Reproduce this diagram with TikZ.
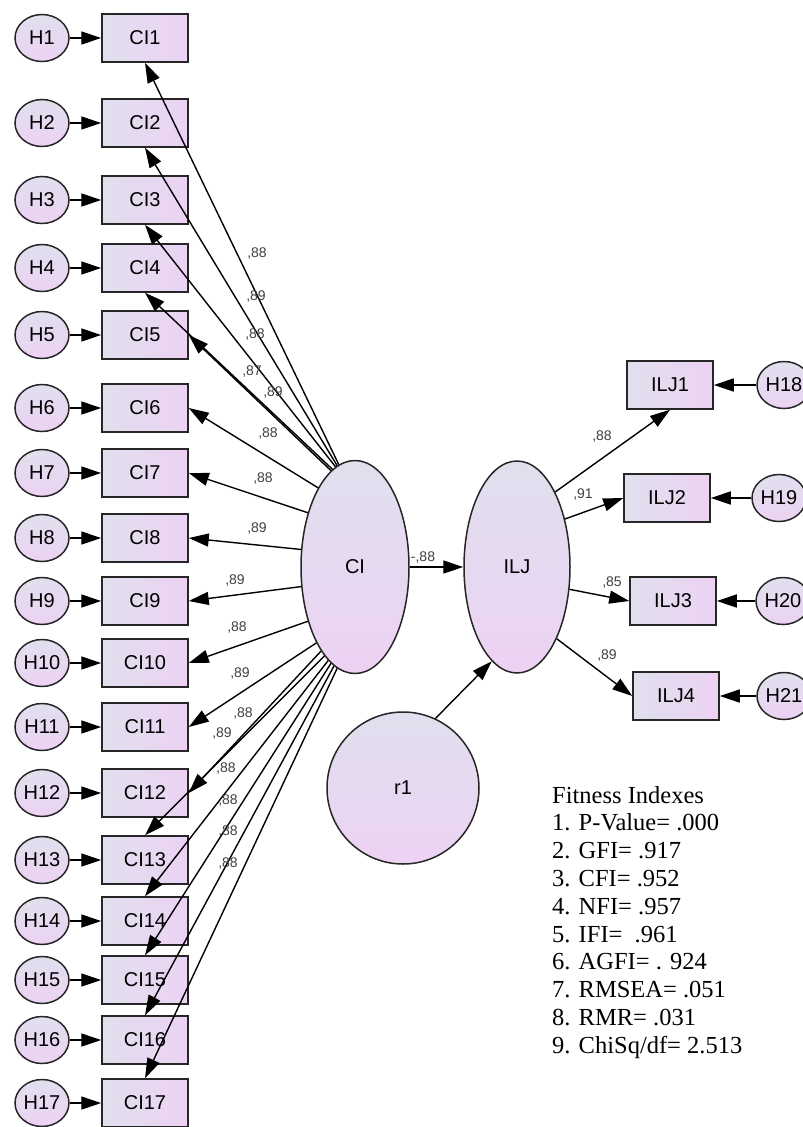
\documentclass[tikz,border=0pt]{standalone}
\usepackage{fontspec}
\setmainfont{Liberation Serif}
\newfontfamily\arialfont{Liberation Sans}
\usetikzlibrary{arrows.meta,shapes.geometric}
\definecolor{amosblue}{HTML}{E0DFEE}
\definecolor{amospink}{HTML}{EDD2F3}

\begin{document}
\begin{tikzpicture}[x=1pt,y=-1pt,
  obs/.style={draw=black!85,line width=1.5pt,left color=amosblue,right color=amospink,
    minimum width=86pt,minimum height=48pt,inner sep=0pt,font=\arialfont\fontsize{20}{20}\selectfont},
  err/.style={ellipse,draw=black!85,line width=1.5pt,top color=amosblue,bottom color=amospink,
    minimum width=54pt,minimum height=47pt,inner sep=0pt,font=\arialfont\fontsize{20}{20}\selectfont},
  lat/.style={ellipse,draw=black!85,line width=1.5pt,top color=amosblue,bottom color=amospink,
    minimum width=108pt,minimum height=213pt,inner sep=0pt,font=\arialfont\fontsize{20}{20}\selectfont},
  load/.style={line width=1.4pt,-{Triangle[length=20pt,width=13pt]}},
  coef/.style={inner sep=0pt,text=black!75,font=\arialfont\fontsize{14}{14}\selectfont},
  fitline/.style={inner sep=0pt,anchor=base west,font=\fontsize{24.5}{27}\selectfont},
]
 \useasboundingbox (0,0) rectangle (803,1127); % 画像の大きさ

 % 左の列: H1〜H17 と CI1〜CI17
 \foreach \i/\y in {1/38,2/123,3/200,4/268,5/335,6/408,7/473,8/538,9/601,10/663,
   11/727,12/793,13/860,14/921,15/980,16/1040,17/1103} {
  \node[err] (H\i) at (42,\y) {H\i};
  \node[obs] (CI\i) at (145,\y) {CI\i};
  \draw[load] (H\i) -- (CI\i);
 }

 \node[lat] (CI) at (355,567) {CI}; % 潜在変数CI
 \node[lat,minimum width=106pt,minimum height=212pt] (ILJ) at (517,567) {ILJ}; % 潜在変数ILJ
 \node[lat,circle,minimum size=152pt] (r1) at (403,788) {r1}; % 誤差r1

 % 右の列: ILJ1〜ILJ4 と H18〜H21
 \foreach \i/\y/\x/\hx in {1/385/670/784,2/498/667/779,3/601/673/783,4/696/676/784} {
  \pgfmathtruncatemacro\h{17+\i}
  \node[obs] (ILJ\i) at (\x,\y) {ILJ\i};
  \node[err] (H\h) at (\hx,\y) {H\h};
  \draw[load] (H\h) -- (ILJ\i);
 }

 % CIから各CIkへの矢印
 \foreach \i/\a/\t in {1/99/south,2/100/south,3/101/south,4/103/south,5/104/east,
   6/115/east,7/131/east,8/162/east,9/200/east,10/229/east,11/243/east,12/248/east,
   13/251/north,14/254/north,15/256/north,16/258/north,17/260/north}
  \draw[load] (CI.\a) -- (CI\i.\t);

 \draw[load] (CI.east) -- (ILJ.west);
 \draw[load] (r1.65) -- (ILJ.255);
 \draw[load] (ILJ.63) -- (ILJ1.south);
 \draw[load] (ILJ.45) -- (ILJ2.west);
 \draw[load] (ILJ.337) -- (ILJ3.west);
 \draw[load] (ILJ.299) -- (ILJ4.west);

 % 係数
 \foreach \x/\y/\t [count=\k] in {257/254/88,256/297/89,255/335/88,252/372/87,273/393/89,
   268/434/88,263/479/88,257/529/89,235/581/89,237/628/88,240/673/89,243/713/88,
   222/733/89,226/768/88,228/800/88,228/831/88,228/863/88,
   602/437/88,583/495/91,612/583/85,607/655/89}
  \node[coef] (c\k) at (\x,\y) {,\t};
 \node[coef] (cpath) at (423,558) {-,88};

 % 適合度指標
 \foreach \t [count=\k from 0] in {Fitness Indexes,{1. P-Value= .000},{2. GFI= .917},
   {3. CFI= .952},{4. NFI= .957},{5. IFI=\ \ .961},{6. AGFI= . 924},{7. RMSEA= .051},
   {8. RMR= .031},{9. ChiSq/df= 2.513}}
  \node[fitline] (fit\k) at (552,803+27.8*\k) {\t};
\end{tikzpicture}
\end{document}
